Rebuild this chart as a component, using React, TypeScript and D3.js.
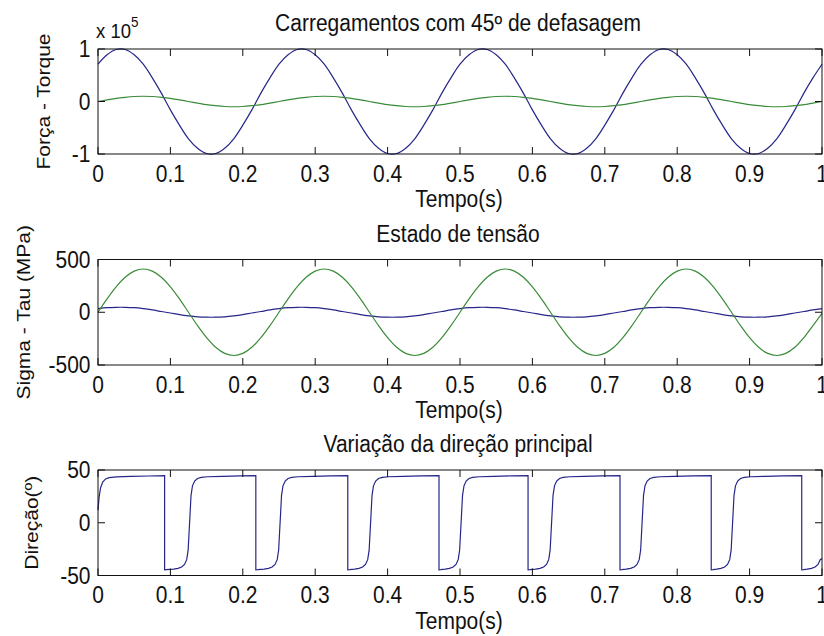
import React from 'react';
import * as d3 from 'd3';

// ---------- DATA ----------
const T_STEP = 0.0125; // sampling step of the sinusoidal series (s)

// Top panel (units of 1e5)
const TORQUE = [
  0.71, 0.89, 0.99, 0.99, 0.89, 0.71, 0.45, 0.16, -0.16, -0.45, -0.71, -0.89, -0.99, -0.99, -0.89, -0.71, -0.45, -0.16, 0.16, 0.45,
  0.71, 0.89, 0.99, 0.99, 0.89, 0.71, 0.45, 0.16, -0.16, -0.45, -0.71, -0.89, -0.99, -0.99, -0.89, -0.71, -0.45, -0.16, 0.16, 0.45,
  0.71, 0.89, 0.99, 0.99, 0.89, 0.71, 0.45, 0.16, -0.16, -0.45, -0.71, -0.89, -0.99, -0.99, -0.89, -0.71, -0.45, -0.16, 0.16, 0.45,
  0.71, 0.89, 0.99, 0.99, 0.89, 0.71, 0.45, 0.16, -0.16, -0.45, -0.71, -0.89, -0.99, -0.99, -0.89, -0.71, -0.45, -0.16, 0.16, 0.45,
  0.71,
];
const FORCE = [
  0, 0.03, 0.06, 0.08, 0.095, 0.1, 0.095, 0.08, 0.06, 0.03, 0, -0.03, -0.06, -0.08, -0.095, -0.1, -0.095, -0.08, -0.06, -0.03,
  0, 0.03, 0.06, 0.08, 0.095, 0.1, 0.095, 0.08, 0.06, 0.03, 0, -0.03, -0.06, -0.08, -0.095, -0.1, -0.095, -0.08, -0.06, -0.03,
  0, 0.03, 0.06, 0.08, 0.095, 0.1, 0.095, 0.08, 0.06, 0.03, 0, -0.03, -0.06, -0.08, -0.095, -0.1, -0.095, -0.08, -0.06, -0.03,
  0, 0.03, 0.06, 0.08, 0.095, 0.1, 0.095, 0.08, 0.06, 0.03, 0, -0.03, -0.06, -0.08, -0.095, -0.1, -0.095, -0.08, -0.06, -0.03,
  0,
];

// Middle panel (MPa)
const TAU = [
  34, 43, 47, 47, 43, 34, 22, 7, -7, -22, -34, -43, -47, -47, -43, -34, -22, -7, 7, 22,
  34, 43, 47, 47, 43, 34, 22, 7, -7, -22, -34, -43, -47, -47, -43, -34, -22, -7, 7, 22,
  34, 43, 47, 47, 43, 34, 22, 7, -7, -22, -34, -43, -47, -47, -43, -34, -22, -7, 7, 22,
  34, 43, 47, 47, 43, 34, 22, 7, -7, -22, -34, -43, -47, -47, -43, -34, -22, -7, 7, 22,
  34,
];
const SIGMA = [
  0, 127, 241, 332, 390, 410, 390, 332, 241, 127, 0, -127, -241, -332, -390, -410, -390, -332, -241, -127,
  0, 127, 241, 332, 390, 410, 390, 332, 241, 127, 0, -127, -241, -332, -390, -410, -390, -332, -241, -127,
  0, 127, 241, 332, 390, 410, 390, 332, 241, 127, 0, -127, -241, -332, -390, -410, -390, -332, -241, -127,
  0, 127, 241, 332, 390, 410, 390, 332, 241, 127, 0, -127, -241, -332, -390, -410, -390, -332, -241, -127,
  -10,
];

// Bottom panel (degrees)
const DIR_T = [
  0, 0.0015, 0.0035, 0.0065, 0.0105, 0.0155, 0.0255, 0.0455, 0.0705, 0.092, 0.092, 0.0945,
  0.1045, 0.1105, 0.1155, 0.1195, 0.1225, 0.1245, 0.1265, 0.1285, 0.1305, 0.1335, 0.1375, 0.1425, 0.1515, 0.1715, 0.1965, 0.218, 0.218, 0.2205,
  0.2295, 0.2355, 0.2405, 0.2445, 0.2475, 0.2495, 0.2515, 0.2535, 0.2555, 0.2585, 0.2625, 0.2675, 0.2765, 0.2965, 0.3215, 0.345, 0.345, 0.3475,
  0.3545, 0.3605, 0.3655, 0.3695, 0.3725, 0.3745, 0.3765, 0.3785, 0.3805, 0.3835, 0.3875, 0.3925, 0.4015, 0.4215, 0.4465, 0.471, 0.471, 0.4735,
  0.4795, 0.4855, 0.4905, 0.4945, 0.4975, 0.4995, 0.5015, 0.5035, 0.5055, 0.5085, 0.5125, 0.5175, 0.5265, 0.5465, 0.5715, 0.594, 0.594, 0.5965,
  0.6045, 0.6105, 0.6155, 0.6195, 0.6225, 0.6245, 0.6265, 0.6285, 0.6305, 0.6335, 0.6375, 0.6425, 0.6515, 0.6715, 0.6965, 0.721, 0.721, 0.7235,
  0.7295, 0.7355, 0.7405, 0.7445, 0.7475, 0.7495, 0.7515, 0.7535, 0.7555, 0.7585, 0.7625, 0.7675, 0.7765, 0.7965, 0.8215, 0.847, 0.847, 0.8495,
  0.8545, 0.8605, 0.8655, 0.8695, 0.8725, 0.8745, 0.8765, 0.8785, 0.8805, 0.8835, 0.8875, 0.8925, 0.9015, 0.9215, 0.9465, 0.972, 0.972, 0.9745,
  0.9795, 0.9855, 0.9905, 0.9945, 0.9975, 1.0,
];
const DIR_V = [
  12, 24, 33, 38.5, 41.5, 42.8, 43.5, 44, 44.3, 44.6, -44.6, -44.5,
  -44, -43.3, -42, -39.5, -35, -26, 0, 26, 35, 39.5, 42, 43, 43.6, 44, 44.4, 44.6, -44.6, -44.5,
  -44, -43.3, -42, -39.5, -35, -26, 0, 26, 35, 39.5, 42, 43, 43.6, 44, 44.4, 44.6, -44.6, -44.5,
  -44, -43.3, -42, -39.5, -35, -26, 0, 26, 35, 39.5, 42, 43, 43.6, 44, 44.4, 44.6, -44.6, -44.5,
  -44, -43.3, -42, -39.5, -35, -26, 0, 26, 35, 39.5, 42, 43, 43.6, 44, 44.4, 44.6, -44.6, -44.5,
  -44, -43.3, -42, -39.5, -35, -26, 0, 26, 35, 39.5, 42, 43, 43.6, 44, 44.4, 44.6, -44.6, -44.5,
  -44, -43.3, -42, -39.5, -35, -26, 0, 26, 35, 39.5, 42, 43, 43.6, 44, 44.4, 44.6, -44.6, -44.5,
  -44, -43.3, -42, -39.5, -35, -26, 0, 26, 35, 39.5, 42, 43, 43.6, 44, 44.4, 44.6, -44.6, -44.5,
  -44, -43.3, -42, -39.5, -35, -34,
];

const X_TICKS = [0, 0.1, 0.2, 0.3, 0.4, 0.5, 0.6, 0.7, 0.8, 0.9, 1];
const X_TICK_LABELS = ['0', '0.1', '0.2', '0.3', '0.4', '0.5', '0.6', '0.7', '0.8', '0.9', '1'];

const TOP_TICKS = [-1, 0, 1];
const TOP_TICK_LABELS = ['-1', '0', '1'];
const MID_TICKS = [-500, 0, 500];
const MID_TICK_LABELS = ['-500', '0', '500'];
const BOT_TICKS = [-50, 0, 50];
const BOT_TICK_LABELS = ['-50', '0', '50'];

const TITLES = ['Carregamentos com 45º de defasagem', 'Estado de tensão', 'Variação da direção principal'];
const Y_LABELS = ['Força - Torque', 'Sigma - Tau (MPa)', 'Direção(º)'];
const X_LABEL = 'Tempo(s)';
const EXP_BASE = 'x 10';
const EXP_POWER = '5';

// ---------- STYLE ----------
const W = 824;
const H = 636;
const FONT = '"Liberation Sans", Arial, Helvetica, sans-serif';
const FS = 21;
const BLUE = '#26268a';
const GREEN = '#3a8c3a';
const X0 = 98;
const X1 = 822;
const TICK = 7;

function HText({ x, y, anchor = 'middle', size = FS, children }: any) {
  return (
    <text transform={`translate(${x},${y}) scale(1,1.1)`} textAnchor={anchor} fontSize={size} fontFamily={FONT} fill="#111">
      {children}
    </text>
  );
}
function VText({ x, y, children }: any) {
  return (
    <text transform={`translate(${x},${y}) rotate(-90) scale(1,0.85)`} textAnchor="middle" fontSize={FS} fontFamily={FONT} fill="#111">
      {children}
    </text>
  );
}

type Series = { t: number[]; v: number[]; color: string; curve: any };

function Panel({ idx, top, bottom, domain, yTicks, yTickLabels, series, yLabelX }: any) {
  const x = d3.scaleLinear().domain([0, 1]).range([X0, X1]);
  const y = d3.scaleLinear().domain(domain).range([bottom, top]);
  const clipId = `clip${idx}`;
  const cy = (top + bottom) / 2;
  return (
    <g>
      <defs>
        <clipPath id={clipId}>
          <rect x={X0 - 1} y={top - 2} width={X1 - X0 + 2} height={bottom - top + 4} />
        </clipPath>
      </defs>
      <g clipPath={`url(#${clipId})`}>
        {series.map((s: Series, i: number) => {
          const pts = s.v.map((v, j) => [s.t[j], v] as [number, number]);
          const line = d3
            .line<[number, number]>()
            .x((d) => x(d[0]))
            .y((d) => y(d[1]))
            .curve(s.curve);
          return <path key={i} d={line(pts) || ''} fill="none" stroke={s.color} strokeWidth={1.2} />;
        })}
      </g>
      <rect x={X0} y={top} width={X1 - X0} height={bottom - top} fill="none" stroke="#111" strokeWidth={1} />
      {X_TICKS.map((t, i) => (
        <g key={'xt' + i}>
          <line x1={x(t)} x2={x(t)} y1={bottom} y2={bottom - TICK} stroke="#111" />
          <line x1={x(t)} x2={x(t)} y1={top} y2={top + TICK} stroke="#111" />
          <HText x={x(t)} y={bottom + 27.5}>{X_TICK_LABELS[i]}</HText>
        </g>
      ))}
      {yTicks.map((v: number, i: number) => (
        <g key={'yt' + i}>
          <line x1={X0} x2={X0 + TICK} y1={y(v)} y2={y(v)} stroke="#111" />
          <line x1={X1} x2={X1 - TICK} y1={y(v)} y2={y(v)} stroke="#111" />
          <HText x={90.5} y={y(v) + 8} anchor="end">{yTickLabels[i]}</HText>
        </g>
      ))}
      <HText x={458} y={top - 18}>{TITLES[idx]}</HText>
      <HText x={459} y={bottom + 53}>{X_LABEL}</HText>
      <VText x={yLabelX} y={cy}>{Y_LABELS[idx]}</VText>
    </g>
  );
}

export default function App() {
  const times = TORQUE.map((_, i) => i * T_STEP);
  const smooth = d3.curveCatmullRom.alpha(0.5);
  return (
    <svg width={W} height={H} style={{ position: 'absolute', left: 0, top: 0, background: '#fff', display: 'block' }}>
      <rect x={0} y={0} width={W} height={H} fill="#fff" />
      <Panel
        idx={0}
        top={49}
        bottom={154}
        domain={[-1, 1]}
        yTicks={TOP_TICKS}
        yTickLabels={TOP_TICK_LABELS}
        yLabelX={50}
        series={[
          { t: times, v: TORQUE, color: BLUE, curve: smooth },
          { t: times, v: FORCE, color: GREEN, curve: smooth },
        ]}
      />
      <HText x={96} y={38} anchor="start" size={18.5}>{EXP_BASE}</HText>
      <HText x={131} y={26.5} anchor="start" size={13.5}>{EXP_POWER}</HText>
      <Panel
        idx={1}
        top={259.5}
        bottom={365}
        domain={[-500, 500]}
        yTicks={MID_TICKS}
        yTickLabels={MID_TICK_LABELS}
        yLabelX={29.5}
        series={[
          { t: times, v: TAU, color: BLUE, curve: smooth },
          { t: times, v: SIGMA, color: GREEN, curve: smooth },
        ]}
      />
      <Panel
        idx={2}
        top={470}
        bottom={575.5}
        domain={[-50, 50]}
        yTicks={BOT_TICKS}
        yTickLabels={BOT_TICK_LABELS}
        yLabelX={38}
        series={[{ t: DIR_T, v: DIR_V, color: BLUE, curve: d3.curveLinear }]}
      />
    </svg>
  );
}
